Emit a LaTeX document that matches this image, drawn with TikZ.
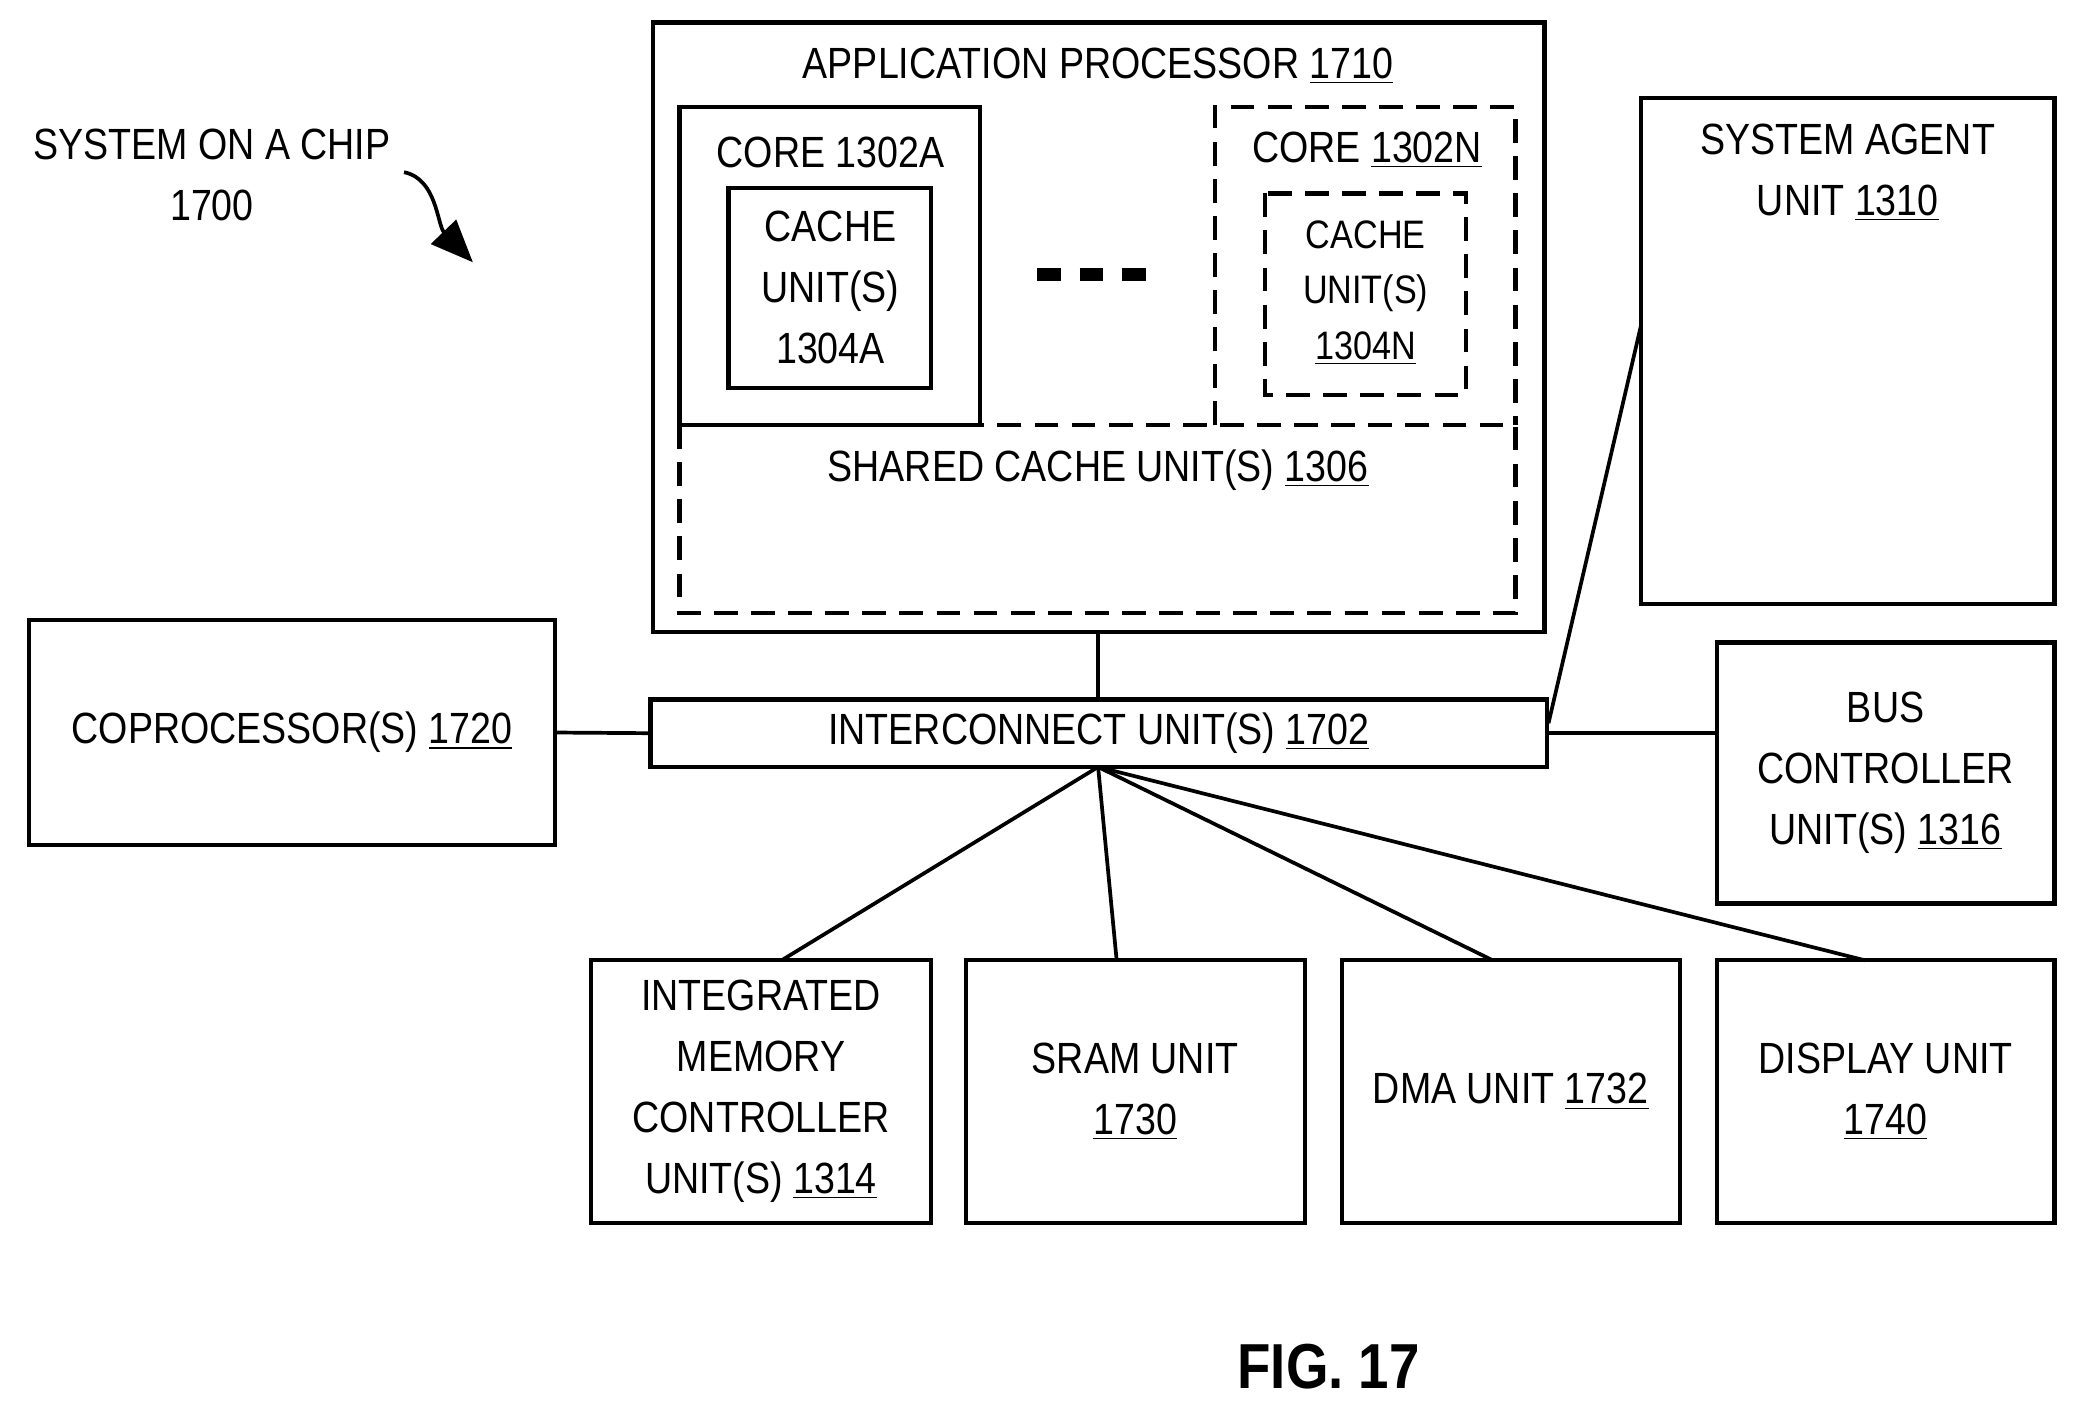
\documentclass[tikz,border=0pt]{standalone}
\usepackage{fontspec}
\setmainfont[FakeStretch=0.86]{Liberation Sans}
\usetikzlibrary{arrows.meta}
\begin{document}
\begin{tikzpicture}[x=0.5pt,y=-0.5pt,
  bx/.style={draw,line width=1.6pt},
  dbx/.style={draw,line width=1.6pt,dash pattern=on 9pt off 5pt},
  txt/.style={align=center,font=\fontsize{16.5}{23}\selectfont,inner sep=0pt},
  ln/.style={line width=1.4pt}]
\useasboundingbox (0,0) rectangle (1568,1067);
% application processor
\draw[bx] (493,17) rectangle (1166,477);
\coordinate (apb) at (829,477);
\node[txt] (apt) at (829,50) {APPLICATION PROCESSOR \underline{1710}};
\draw[bx] (513,81) rectangle (740,321);
\node[txt] (cat) at (627,115) {CORE 1302A};
\draw[bx] (550,142) rectangle (703,293);
\node[txt] (cacheA) at (627,217) {CACHE\\UNIT(S)\\1304A};
\draw[line width=5pt,dash pattern=on 9pt off 7pt] (783,207) -- (878,207);
\draw[dbx] (917,321) -- (917,81) -- (1144,81) -- (1144,321);
\node[txt] (cnt) at (1032,113) {CORE \underline{1302N}};
\draw[dbx] (955,146) rectangle (1107,298);
\node[txt,font=\fontsize{15}{21}\selectfont] (cacheN) at (1031,221) {CACHE\\UNIT(S)\\\underline{1304N}};
\draw[dbx] (513,321) rectangle (1144,463);
\node[txt] (shared) at (829,355) {SHARED CACHE UNIT(S) \underline{1306}};
% system agent
\draw[bx] (1239,74) rectangle (1551,456);
\node[txt] (sa) at (1395,130) {SYSTEM AGENT\\UNIT \underline{1310}};
\coordinate (sal) at (1239,245);
% coprocessor
\node[bx,minimum width=198.5pt,minimum height=85pt,txt] (cop) at (220.5,553) {COPROCESSOR(S) \underline{1720}};
% interconnect
\node[bx,minimum width=338.5pt,minimum height=25.5pt,txt] (ic) at (829.5,553.5) {INTERCONNECT UNIT(S) \underline{1702}};
% bus controller
\node[bx,minimum width=127.5pt,minimum height=98.5pt,txt] (bus) at (1423.5,583.5) {BUS\\CONTROLLER\\UNIT(S) \underline{1316}};
% bottom
\node[bx,minimum width=128.5pt,minimum height=99pt,txt] (imc) at (574.5,824) {INTEGRATED\\MEMORY\\CONTROLLER\\UNIT(S) \underline{1314}};
\node[bx,minimum width=128pt,minimum height=99pt,txt] (sram) at (857,824) {SRAM UNIT\\\underline{1730}};
\node[bx,minimum width=127.5pt,minimum height=99pt,txt] (dma) at (1140.5,824) {DMA UNIT \underline{1732}};
\node[bx,minimum width=127.5pt,minimum height=99pt,txt] (disp) at (1423.5,824) {DISPLAY UNIT\\\underline{1740}};
% connectors
\coordinate (icb) at (829,579);
\draw[ln] (apb) -- (ic.north -| apb);
\draw[ln] (cop.east) -- (ic.west);
\draw[ln] (ic.east) -- (bus.west |- ic.east);
\draw[ln] (1169,546) -- (sal);
\draw[ln] (icb) -- (590,725);
\draw[ln] (icb) -- (843,725);
\draw[ln] (icb) -- (1127,725);
\draw[ln] (icb) -- (1408,725);
% labels
\node[txt] (soc) at (160,132) {SYSTEM ON A CHIP\\1700};
\coordinate (a1) at (305,130);
\coordinate (a2) at (357,198);
\draw[ln,-{Triangle[length=16pt,width=13pt]}] (a1) .. controls (330,135) and (330,170) .. (a2);
\node[font=\bfseries\fontsize{24}{28}\selectfont] (fig) at (1003,1032) {FIG. 17};
\end{tikzpicture}
\end{document}
